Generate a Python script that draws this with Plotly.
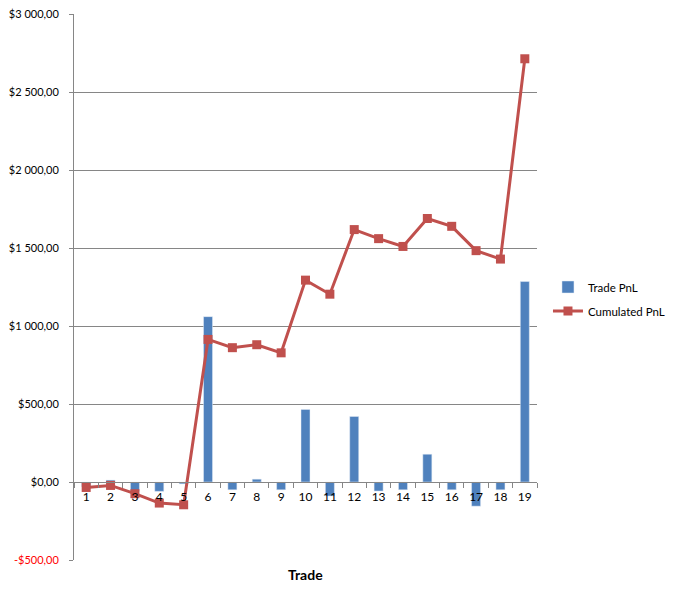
import plotly.graph_objects as go

trades = [str(i) for i in range(1, 20)]
trade_pnl = [-30, 12, -60, -60, -12, 1060, -50, 18, -50, 465, -90, 420, -58, -50, 178, -50, -155, -50, 1285]
cumulated_pnl = [-35, -22, -75, -135, -146, 914, 861, 880, 828, 1294, 1204, 1618, 1560, 1510, 1689, 1639, 1483, 1429, 2713]
y_tick_vals = [-500, 0, 500, 1000, 1500, 2000, 2500, 3000]
y_tick_text = ['<span style="color:#FF0000">-$500,00</span>', "$0,00", "$500,00", "$1 000,00",
               "$1 500,00", "$2 000,00", "$2 500,00", "$3 000,00"]

FONT = "Lato"
W, H = 680, 598
# page body adds an 8px offset; margins compensate for it
L, R, T, B = 66, 151, 6, 46
ymin, ymax = -500, 3000
zero_frac = (0 - ymin) / (ymax - ymin)

fig = go.Figure()
fig.add_trace(go.Bar(x=trades, y=trade_pnl, name="Trade PnL", marker_color="#4F81BD",
                     width=0.37, legendgroup="a"))
fig.add_trace(go.Scatter(x=trades, y=cumulated_pnl, name="Cumulated PnL", mode="lines+markers",
                         line=dict(color="#C0504D", width=3), legendgroup="b",
                         marker=dict(symbol="square", size=9, color="#C0504D")))

fig.update_layout(
    width=W, height=H,
    margin=dict(l=L, r=R, t=T, b=B, pad=0, autoexpand=False),
    paper_bgcolor="white", plot_bgcolor="white",
    font=dict(family=FONT, size=12, color="black"),
    showlegend=True,
    legend=dict(x=1.0237, y=0.478, xanchor="left", yanchor="middle",
                font=dict(family=FONT, size=11.5), tracegroupgap=5, bgcolor="rgba(0,0,0,0)"),
    bargap=0.6,
    xaxis=dict(type="category", anchor="free", position=zero_frac, automargin=False,
               range=[-0.5, len(trades) - 0.5],
               showline=True, linecolor="#868686", linewidth=1, tickangle=0,
               ticks="outside", tickson="boundaries", ticklen=5, tickcolor="#868686",
               ticklabelstandoff=4,
               showgrid=False, tickfont=dict(family=FONT, size=12)),
    yaxis=dict(range=[ymin, ymax], tickvals=y_tick_vals, ticktext=y_tick_text, automargin=False,
               showline=True, linecolor="#868686", linewidth=1, ticklabeloverflow="allow",
               ticks="outside", ticklen=4, tickcolor="#868686", ticklabelstandoff=8,
               showgrid=True, gridcolor="#868686", gridwidth=1,
               zeroline=False, tickfont=dict(family=FONT, size=11)),
)
fig.add_annotation(text="<b>Trade</b>", x=0.5, y=0, xref="paper", yref="paper",
                   xanchor="center", yanchor="top", yshift=-4, showarrow=False,
                   font=dict(family=FONT, size=14, color="black"))

fig.write_html("out.html")
